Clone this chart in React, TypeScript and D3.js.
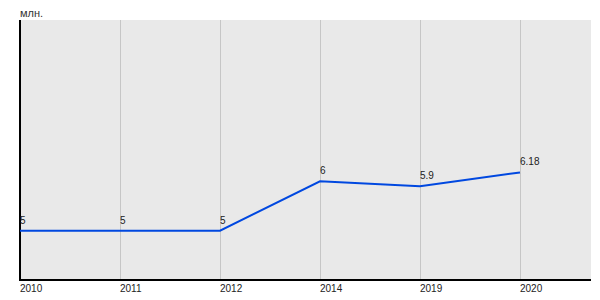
import React from "react";
import * as d3 from "d3";

const categories = ["2010", "2011", "2012", "2014", "2019", "2020"];
const values = [5, 5, 5, 6, 5.9, 6.18];
const valueLabels = ["5", "5", "5", "6", "5.9", "6.18"];
const unitLabel = "млн.";

export default function App() {
  const W = 600, H = 300;
  const left = 20, top = 20, right = 591, bottom = 280;
  const step = 100;
  const x = (i: number) => left + i * step;
  const y = d3.scaleLinear().domain([4, 6.18 * 1.5]).range([bottom, top]);
  const line = d3
    .line<number>()
    .x((_, i) => x(i))
    .y((d) => y(d));
  return (
    <svg width={W} height={H} style={{ position: "absolute", left: 0, top: 0 }} fontFamily="Arial, Liberation Sans, sans-serif">
      <rect x={left} y={top} width={right - left} height={bottom - top} fill="#e9e9e9" />
      {categories.map((c, i) => (
        <line key={"g" + i} x1={x(i) + 0.5} x2={x(i) + 0.5} y1={top} y2={bottom} stroke="#c6c6c6" strokeWidth={1} />
      ))}
      <line x1={left} x2={left} y1={top} y2={bottom + 1} stroke="#000" strokeWidth={2} />
      <line x1={left - 1} x2={right} y1={bottom} y2={bottom} stroke="#000" strokeWidth={2} />
      <text x={left} y={17} fontSize={11} fill="#333">{unitLabel}</text>
      {categories.map((c, i) => (
        <text key={"t" + i} x={x(i)} y={292} fontSize={10} fill="#222">{c}</text>
      ))}
      <path d={line(values) || ""} fill="none" stroke="#0048e0" strokeWidth={2} />
      {values.map((v, i) => (
        <text key={"v" + i} x={x(i)} y={y(v) - 7} fontSize={10} fill="#222">{valueLabels[i]}</text>
      ))}
    </svg>
  );
}
